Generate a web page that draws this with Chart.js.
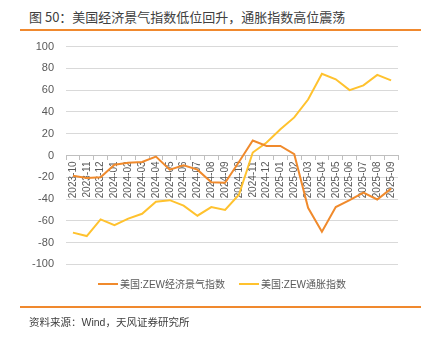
<!DOCTYPE html>
<html>
<head>
<meta charset="utf-8">
<script src="https://cdn.jsdelivr.net/npm/chart.js@4.4.0/dist/chart.umd.min.js"></script>
<style>
  body { margin: 0; background: #fff; }
  #wrap { position: relative; width: 428px; height: 338px; overflow: hidden; font-family: "Noto Sans CJK SC", "Liberation Sans", sans-serif; }
  #title { position: absolute; left: 29px; top: 7px; font-size: 13px; color: #404040; white-space: nowrap; }
  .rule { position: absolute; left: 20px; width: 401px; height: 1.5px; background: #F0892E; }
  #src { position: absolute; left: 29px; top: 314px; font-size: 10.5px; color: #404040; white-space: nowrap; font-family: "Liberation Sans", "Noto Sans CJK SC", sans-serif; }
  #legend { position: absolute; top: 277px; left: 0; width: 428px; height: 16px; font-size: 10px; color: #595959; font-family: "Liberation Sans", "Noto Sans CJK SC", sans-serif; }
  .lg { position: absolute; top: 0; white-space: nowrap; line-height: 16px; }
  .sw { display: inline-block; width: 20px; height: 2px; vertical-align: middle; margin-right: 2px; position: relative; top: -1px; }
  canvas { position: absolute; left: 0; top: 28px; }
</style>
</head>
<body>
<div id="wrap">
  <div id="title">图 50：美国经济景气指数低位回升，通胀指数高位震荡</div>
  <div class="rule" style="top:29px"></div>
  <canvas id="chart" width="428" height="255"></canvas>
  <div id="legend">
    <div class="lg" style="left:98px"><span class="sw" style="background:#F08A2C"></span>美国:ZEW经济景气指数</div>
    <div class="lg" style="left:239px"><span class="sw" style="background:#FFC22E"></span>美国:ZEW通胀指数</div>
  </div>
  <div class="rule" style="top:306px"></div>
  <div id="src">资料来源：Wind，天风证券研究所</div>
</div>
<script>
// 月份
const meses = [
  "2023-10", "2023-11", "2023-12", "2024-01", "2024-02", "2024-03",
  "2024-04", "2024-05", "2024-06", "2024-07", "2024-08", "2024-09",
  "2024-10", "2024-11", "2024-12", "2025-01", "2025-02", "2025-03",
  "2025-04", "2025-05", "2025-06", "2025-07", "2025-08", "2025-09"
];

// 美国:ZEW经济景气指数
const zewEconomia = [
  -18.5, -20.7, -20, -8.5, -6.7, -6,
  -1, -13, -9, -13, -24.6, -25,
  -6, 13.7, 8.8, 8.8, 1.2, -48,
  -70, -47.4, -41, -34, -40.4, -30.4
];

// 美国:ZEW通胀指数
const zewInflacao = [
  -70.8, -74, -58.7, -64, -58, -53.5,
  -42.5, -41, -46, -55.3, -47.4, -50,
  -36, 2.7, 12, 24, 35, 51.4,
  75, 70, 60, 64.4, 74, 69
];

const yTicks = [100, 80, 60, 40, 20, 0, -20, -40, -60, -80, -100];

const canvas = document.getElementById("chart");

new Chart(canvas, {
  type: 'line',
  data: {
    labels: meses,
    datasets: [
      {
        label: '美国:ZEW经济景气指数',
        data: zewEconomia,
        borderColor: '#F08A2C',
        borderWidth: 2,
        pointRadius: 0,
        tension: 0
      },
      {
        label: '美国:ZEW通胀指数',
        data: zewInflacao,
        borderColor: '#FFC22E',
        borderWidth: 2,
        pointRadius: 0,
        tension: 0
      }
    ]
  },
  options: {
    responsive: false,
    animation: false,
    layout: { padding: { left: 20, right: 30, top: 0, bottom: 0 } },
    plugins: {
      legend: { display: false },
      tooltip: { enabled: false }
    },
    scales: {
      x: {
        position: { y: 0 },
        offset: true,
        grid: {
          offset: true,
          drawOnChartArea: false,
          drawTicks: true,
          tickLength: 4,
          color: '#BFBFBF'
        },
        border: { color: '#BFBFBF' },
        ticks: {
          autoSkip: false,
          minRotation: 90,
          maxRotation: 90,
          padding: 2,
          color: '#595959',
          font: { family: 'Liberation Sans', size: 10 }
        }
      },
      y: {
        min: -100,
        max: 100,
        afterBuildTicks: (scale) => { scale.ticks = yTicks.map(v => ({ value: v })); },
        grid: { color: '#D9D9D9', drawTicks: false },
        border: { display: false },
        ticks: {
          padding: 12,
          color: '#595959',
          font: { family: 'Liberation Sans', size: 11 }
        }
      }
    }
  }
});
</script>
</body>
</html>
